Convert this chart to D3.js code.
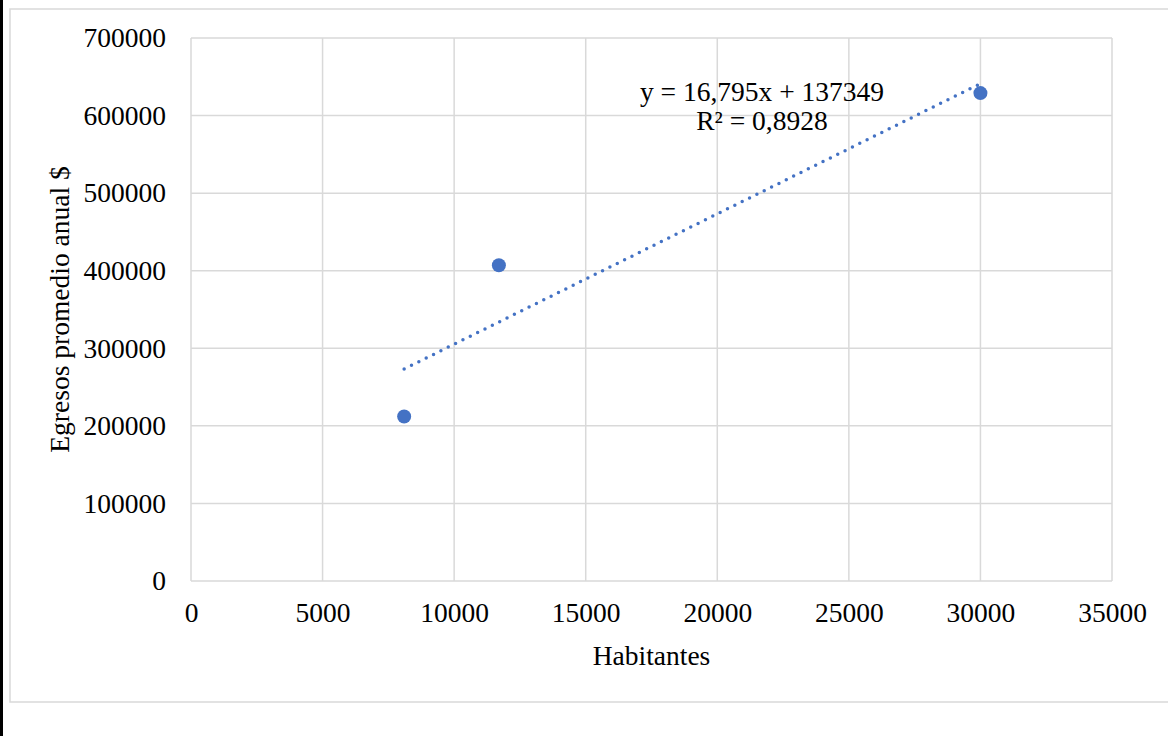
<!DOCTYPE html>
<html>
<head>
<meta charset="utf-8">
<script src="https://cdn.jsdelivr.net/npm/d3@7"></script>
<style>
  html, body { margin: 0; padding: 0; background: #fff; }
  svg { display: block; }
</style>
</head>
<body>
<svg id="chart"></svg>
<script>
// Data
const habitantes = [8100, 11700, 30000];
const egresos = [212000, 407000, 629000];
const xTicks = [0, 5000, 10000, 15000, 20000, 25000, 30000, 35000];
const yTicks = [0, 100000, 200000, 300000, 400000, 500000, 600000, 700000];
const trendSlope = 16.795;
const trendIntercept = 137349;
const trendLabels = ['y = 16,795x + 137349', 'R² = 0,8928'];

const totalWidth = 1168;
const totalHeight = 736;
const margin = { top: 38, right: 56, bottom: 155, left: 191 };
const font = '"Liberation Serif", "Times New Roman", serif';
const fontSize = 27.5;

const points = habitantes.map((h, i) => ({ x: h, y: egresos[i] }));

const svg = d3.select('#chart')
  .attr('width', totalWidth)
  .attr('height', totalHeight);

// Outer frame, like the chart area border
svg.append('rect')
  .attr('x', 0).attr('y', 0)
  .attr('width', 3).attr('height', totalHeight)
  .attr('fill', '#000');

svg.append('rect')
  .attr('x', 10).attr('y', 9)
  .attr('width', totalWidth - 9).attr('height', 693)
  .attr('fill', 'none')
  .attr('stroke', '#d9d9d9')
  .attr('stroke-width', 1.5);

// Scales
const x = d3.scaleLinear()
  .domain([0, 35000])
  .range([margin.left, totalWidth - margin.right]);

const y = d3.scaleLinear()
  .domain([0, 700000])
  .range([totalHeight - margin.bottom, margin.top]);

// Gridlines
svg.append('g')
  .selectAll('line')
  .data(xTicks)
  .join('line')
  .attr('x1', d => x(d)).attr('x2', d => x(d))
  .attr('y1', y(0)).attr('y2', y(700000))
  .attr('stroke', '#d9d9d9')
  .attr('stroke-width', 1.5);

svg.append('g')
  .selectAll('line')
  .data(yTicks)
  .join('line')
  .attr('x1', x(0)).attr('x2', x(35000))
  .attr('y1', d => y(d)).attr('y2', d => y(d))
  .attr('stroke', '#d9d9d9')
  .attr('stroke-width', 1.5);

// Axes (labels only, gridlines carry the lines)
const xAxis = svg.append('g')
  .attr('transform', `translate(0,${y(0)})`)
  .call(d3.axisBottom(x).tickValues(xTicks).tickSize(0).tickPadding(21).tickFormat(d3.format('d')));

const yAxis = svg.append('g')
  .attr('transform', `translate(${x(0)},0)`)
  .call(d3.axisLeft(y).tickValues(yTicks).tickSize(0).tickPadding(25).tickFormat(d3.format('d')));

[xAxis, yAxis].forEach(ax => {
  ax.select('.domain').remove();
  ax.selectAll('text')
    .attr('font-family', font)
    .attr('font-size', fontSize)
    .attr('fill', '#000');
});
xAxis.selectAll('text').attr('dy', '0.71em');

// Trend line (dotted)
const xExtent = d3.extent(habitantes);
svg.append('path')
  .datum(xExtent.map(v => ({ x: v, y: trendSlope * v + trendIntercept })))
  .attr('fill', 'none')
  .attr('stroke', '#4472c4')
  .attr('stroke-width', 3.5)
  .attr('stroke-linecap', 'round')
  .attr('stroke-dasharray', '0 8.2')
  .attr('d', d3.line().x(d => x(d.x)).y(d => y(d.y)));

// Points
svg.append('g')
  .selectAll('circle')
  .data(points)
  .join('circle')
  .attr('cx', d => x(d.x))
  .attr('cy', d => y(d.y))
  .attr('r', 7)
  .attr('fill', '#4472c4');

// Trend label
svg.append('g')
  .selectAll('text')
  .data(trendLabels)
  .join('text')
  .attr('x', 762)
  .attr('y', (d, i) => 101 + i * 29)
  .attr('text-anchor', 'middle')
  .attr('font-family', font)
  .attr('font-size', fontSize)
  .text(d => d);

// Axis titles
svg.append('text')
  .attr('x', (x(0) + x(35000)) / 2)
  .attr('y', 665)
  .attr('text-anchor', 'middle')
  .attr('font-family', font)
  .attr('font-size', fontSize)
  .text('Habitantes');

svg.append('text')
  .attr('transform', `translate(69,${(y(0) + y(700000)) / 2}) rotate(-90)`)
  .attr('text-anchor', 'middle')
  .attr('font-family', font)
  .attr('font-size', fontSize)
  .text('Egresos promedio anual $');
</script>
</body>
</html>
